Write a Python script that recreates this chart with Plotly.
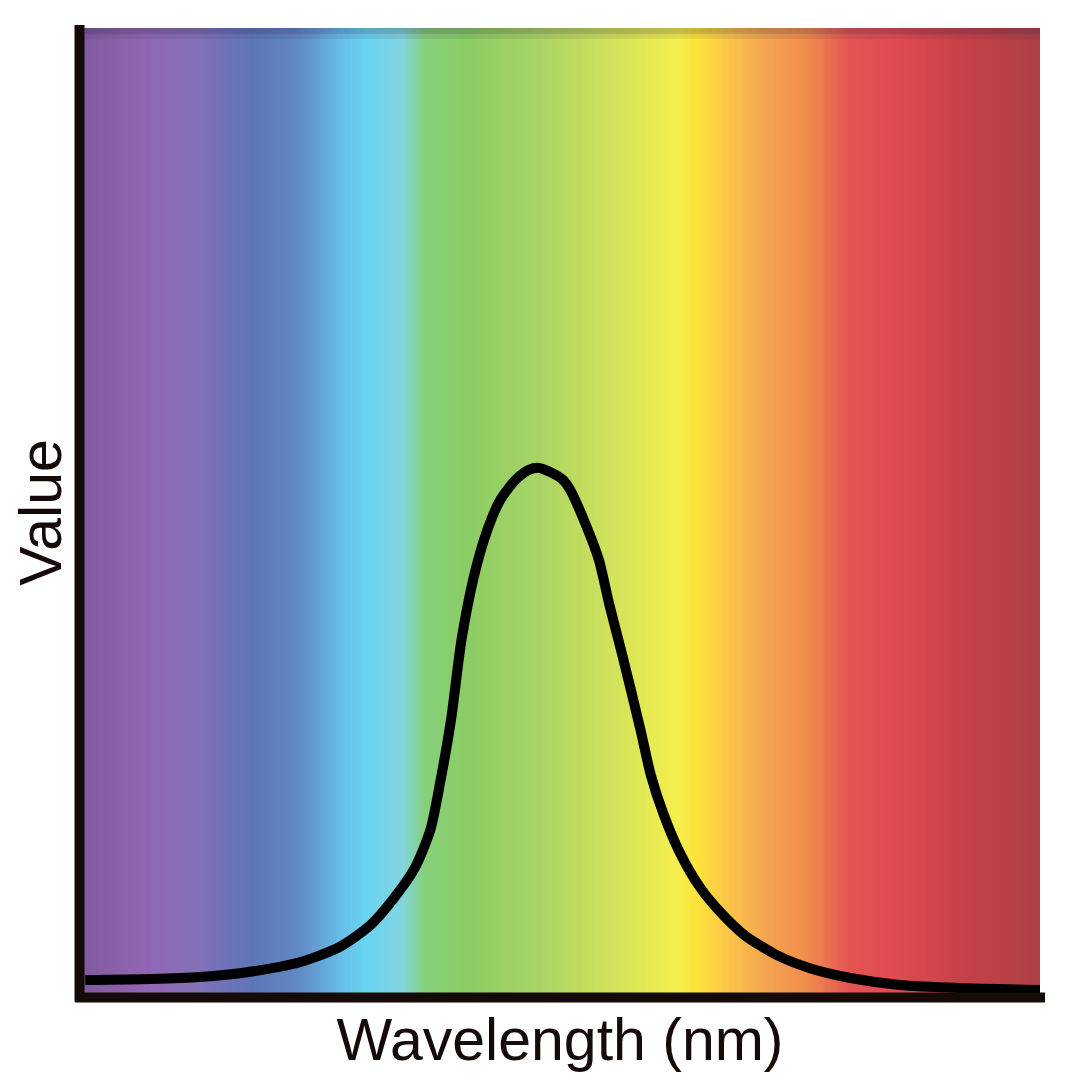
import numpy as np
import plotly.graph_objects as go

# curve (wavelength in nm, value in % of plot height)
wavelength = [382, 407, 426, 445, 465, 480, 492, 501, 509, 515, 519, 523, 527, 532,
              537, 542, 548, 553, 557, 561, 566, 569, 575, 580, 584, 589, 596, 600,
              605, 611, 619, 627, 636, 648, 661, 677, 696, 719, 751]
value = [1.75, 1.86, 2.06, 2.58, 3.61, 5.16, 7.43, 10.2, 13.3, 17.2, 22.4, 28.6, 36.8, 43.6,
         48.2, 51.3, 53.4, 54.4, 54.6, 54.2, 53.4, 52.3, 48.7, 45.1, 40.5, 35.3, 27.6, 22.9,
         18.8, 15.0, 11.3, 8.7, 6.4, 4.4, 3.0, 1.96, 1.24, 0.93, 0.72]

x_label = "Wavelength (nm)"
y_label = "Value"

# spectrum colours behind the plot
spec_nm = [380, 405, 425, 446, 464, 480, 490, 504, 513, 529, 556, 587, 610, 618, 630,
           645, 661, 676, 695, 718, 750]
spec_col = ["#7f5a9b", "#9166b3", "#8470b8", "#5d76b8", "#6288c4", "#66bce8", "#69d3f2",
            "#82d4e0", "#86d07a", "#8acd64", "#a8d465", "#d4e35a", "#f5ef4e", "#fde33a",
            "#fbc44a", "#f4a350", "#f08a4c", "#e35552", "#df4a52", "#c84148", "#ad4046"]

lo, hi = 380, 750
scale = [[(n - lo) / (hi - lo), c] for n, c in zip(spec_nm, spec_col)]
cols = np.arange(lo, hi + 1, 1.0)

fig = go.Figure()
fig.add_trace(go.Heatmap(x=cols, y=[0, 100], z=[cols, cols], colorscale=scale,
                         zmin=lo, zmax=hi, showscale=False, hoverinfo="skip"))
fig.add_trace(go.Scatter(x=wavelength, y=value, mode="lines",
                         line=dict(color="black", width=10, shape="spline", smoothing=0.7),
                         cliponaxis=False, hoverinfo="skip"))

ink = "#140a08"
font = dict(family="Liberation Sans, Arial", size=59, color=ink)
bare = dict(showticklabels=False, showgrid=False, zeroline=False, showline=False,
            ticks="")
# page body has an 8px margin, so the figure is a bit smaller and shifted
fig.update_layout(
    width=1064, height=1072,
    margin=dict(l=72, r=32, t=20, b=83),
    paper_bgcolor="white", plot_bgcolor="white",
    showlegend=False,
    xaxis=dict(range=[lo, hi], title=dict(text=x_label, font=font, standoff=21), **bare),
    yaxis=dict(range=[0, 100], title=dict(text=y_label, font=font, standoff=8), **bare),
    shapes=[
        # slight darker band at the top of the spectrum
        dict(type="rect", xref="paper", yref="paper", x0=0, x1=1, y0=0.994, y1=1,
             fillcolor="rgba(40,30,60,0.25)", line_width=0, layer="above"),
        dict(type="rect", xref="paper", yref="paper", x0=0, x1=1, y0=0.989, y1=0.994,
             fillcolor="rgba(40,30,60,0.10)", line_width=0, layer="above"),
        dict(type="line", xref="paper", yref="paper", x0=-0.0005, x1=-0.0005,
             y0=-0.005, y1=1.003, line=dict(color=ink, width=10), layer="above"),
        dict(type="line", xref="paper", yref="paper", x0=-0.005, x1=1.0052,
             y0=-0.0005, y1=-0.0005, line=dict(color=ink, width=10), layer="above"),
    ],
)

fig.write_html("out.html")
